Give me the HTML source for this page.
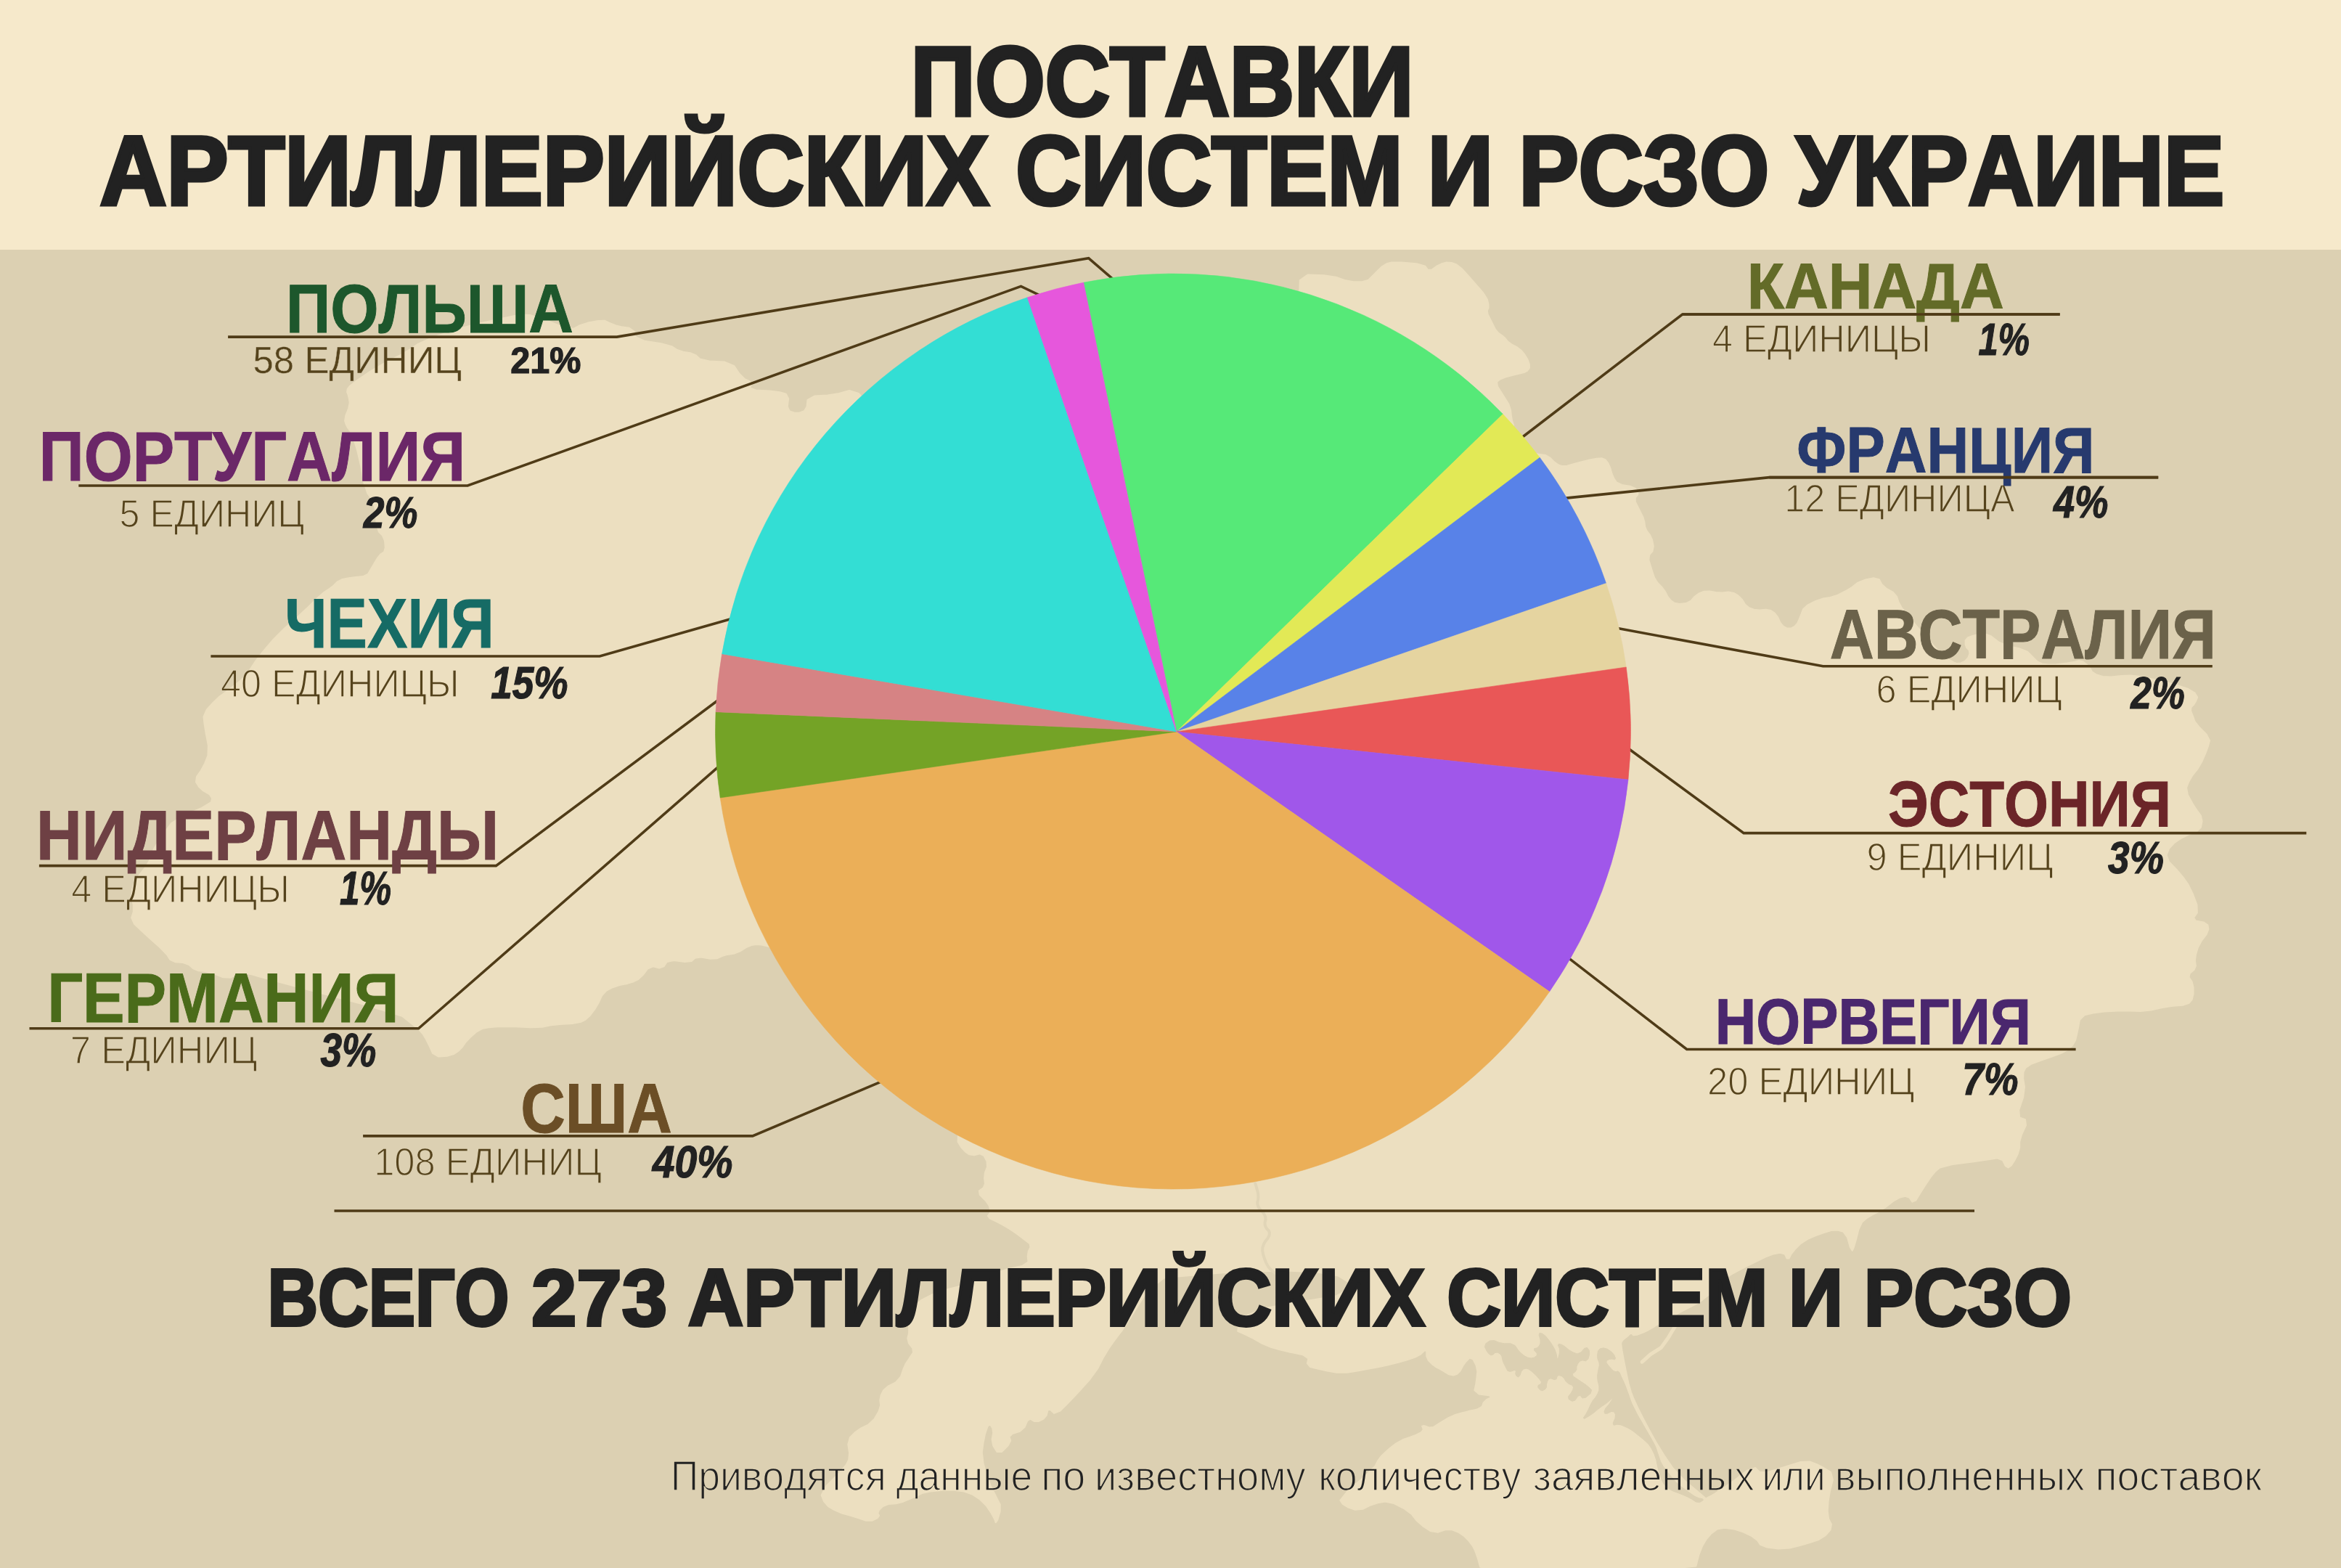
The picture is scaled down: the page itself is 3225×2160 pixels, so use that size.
<!DOCTYPE html>
<html lang="ru"><head><meta charset="utf-8"><title>Поставки артиллерийских систем и РСЗО Украине</title>
<style>
html,body{margin:0;padding:0;background:#dcd0b2;}
body{width:3225px;height:2160px;overflow:hidden;}
svg{display:block;font-family:"Liberation Sans",sans-serif;font-kerning:none;}
text{white-space:pre;}
</style></head><body>
<svg width="3225" height="2160" viewBox="0 0 3225 2160">
<rect width="3225" height="2160" fill="#dcd0b2"/>
<path d="M492.2 523.8L510.8 511.2L530.0 500.0L550.0 490.0L565.2 481.2L575.8 473.8L595.8 465.0L625.2 455.0L653.8 447.0L681.2 441.0L702.0 436.5L716.0 433.5L729.8 434.0L743.2 438.0L759.0 443.8L777.0 451.2L790.2 452.8L798.8 448.2L810.0 444.6L824.0 442.0L833.5 441.8L838.5 444.3L843.5 446.5L848.5 448.5L856.2 450.2L866.8 451.7L873.2 456.3L875.8 464.1L888.2 469.8L910.8 473.2L925.5 477.2L932.5 481.8L941.0 484.8L951.0 486.2L958.8 489.5L964.2 494.5L977.2 497.5L997.8 498.5L1011.5 504.2L1018.5 514.8L1025.5 521.8L1032.5 525.2L1035.0 529.5L1033.0 534.5L1041.5 537.5L1060.5 538.5L1074.2 540.2L1082.8 542.8L1086.2 549.2L1084.8 559.8L1087.5 566.2L1094.5 568.8L1101.2 568.8L1107.8 566.2L1111.5 560.2L1112.5 550.8L1122.0 545.5L1140.0 544.5L1156.0 542.0L1170.0 538.0L1182.8 542.0L1194.2 554.0L1275.0 540.0L1425.0 500.0L1572.5 462.5L1717.5 427.5L1790.2 402.0L1790.8 386.0L1801.8 378.4L1823.6 379.2L1840.4 381.8L1852.5 386.0L1864.5 388.2L1876.6 388.2L1885.2 385.6L1890.4 380.5L1896.4 374.4L1903.3 367.6L1910.2 363.3L1917.0 361.5L1930.8 361.5L1951.5 363.3L1963.5 366.7L1967.0 371.8L1972.2 371.8L1979.0 366.7L1986.0 363.3L1992.8 361.5L1999.7 362.0L2006.6 364.5L2014.3 370.6L2023.0 380.1L2032.4 390.8L2042.8 402.9L2048.8 412.3L2050.5 419.2L2050.5 424.3L2048.8 427.8L2049.6 432.9L2053.1 439.9L2056.5 446.8L2060.0 453.7L2064.3 458.8L2069.4 462.3L2073.7 466.1L2077.2 470.5L2082.4 474.3L2089.2 477.8L2095.3 482.5L2100.4 488.5L2104.3 494.9L2106.9 501.9L2106.9 507.0L2104.3 510.5L2099.6 513.1L2092.7 514.8L2084.1 516.9L2073.8 519.5L2066.4 522.5L2062.2 526.0L2063.0 532.4L2069.0 541.9L2074.2 550.1L2078.4 556.9L2081.0 564.7L2082.0 573.3L2083.2 580.2L2085.0 585.3L2084.4 595.9L2081.4 612.0L2090.1 621.5L2110.1 624.3L2123.2 626.2L2129.3 627.1L2135.3 630.5L2141.4 636.6L2147.0 640.5L2152.1 642.1L2159.0 641.7L2167.6 639.2L2177.9 636.4L2190.0 633.5L2199.4 631.8L2206.4 631.2L2211.5 633.1L2215.0 637.5L2218.0 643.9L2220.5 652.5L2223.5 659.4L2227.0 664.5L2234.3 668.0L2245.5 669.7L2252.8 672.8L2256.3 677.1L2256.3 681.4L2252.8 685.6L2252.8 691.2L2256.3 698.2L2259.7 705.0L2263.2 711.9L2265.3 718.7L2266.2 725.7L2268.8 731.7L2273.0 736.8L2276.1 743.7L2277.8 752.4L2276.5 759.3L2272.2 764.4L2271.3 771.3L2273.9 779.9L2276.5 788.1L2279.1 795.8L2283.4 802.7L2289.4 808.8L2294.1 815.2L2297.6 822.1L2301.9 827.2L2307.0 830.7L2313.9 832.0L2322.6 831.1L2329.5 827.7L2334.6 821.7L2340.6 817.4L2347.6 814.8L2355.3 814.4L2363.9 816.0L2372.5 816.5L2381.1 815.6L2388.4 816.9L2394.5 820.4L2399.7 825.6L2403.9 832.4L2409.5 837.2L2416.4 839.7L2424.1 840.6L2432.7 839.7L2439.6 841.0L2444.8 844.5L2449.1 850.1L2452.6 857.8L2456.9 863.0L2462.0 865.6L2467.2 865.6L2472.3 863.0L2476.2 858.7L2478.8 852.6L2481.4 846.2L2484.0 839.3L2490.5 833.3L2500.8 828.1L2511.1 824.6L2521.4 823.0L2531.8 819.6L2542.0 814.5L2551.1 809.0L2558.8 803.0L2568.8 798.8L2580.9 796.2L2588.8 798.2L2592.2 804.8L2598.5 810.5L2607.5 815.5L2613.1 821.8L2615.4 829.2L2619.7 837.0L2626.0 845.2L2635.0 856.1L2646.5 870.0L2658.1 883.2L2669.6 895.9L2678.8 904.6L2685.7 909.2L2691.5 912.4L2696.1 914.1L2701.3 913.5L2707.1 910.7L2711.2 906.3L2713.4 900.5L2712.8 895.9L2709.3 892.4L2707.6 887.8L2707.6 882.1L2711.1 878.1L2718.0 875.8L2725.5 874.0L2733.6 872.9L2742.8 876.3L2753.2 884.4L2766.5 890.1L2782.6 893.6L2793.0 897.6L2797.6 902.3L2802.2 906.9L2806.8 911.5L2813.1 914.4L2821.3 915.5L2832.8 915.2L2847.8 913.5L2858.2 911.8L2863.9 910.1L2869.7 911.5L2875.4 916.1L2879.5 920.7L2881.8 925.3L2887.6 929.1L2896.8 931.9L2908.3 932.5L2922.2 930.9L2934.9 930.5L2946.4 931.7L2966.6 935.7L2995.4 942.6L3014.4 949.0L3023.7 954.7L3027.2 960.5L3024.8 966.3L3022.0 970.9L3018.5 974.4L3018.0 979.0L3020.2 984.7L3022.1 989.7L3023.5 993.9L3029.3 1001.2L3039.7 1011.6L3044.0 1020.2L3042.2 1027.1L3038.8 1036.6L3033.6 1048.7L3027.6 1059.0L3020.7 1067.6L3015.6 1076.2L3012.1 1084.8L3013.9 1095.1L3020.7 1107.2L3026.8 1116.7L3031.9 1123.5L3033.6 1131.3L3031.9 1139.9L3025.8 1145.9L3015.6 1149.4L3005.2 1154.5L2994.9 1161.5L2988.0 1169.2L2984.6 1177.8L2988.1 1187.3L2998.3 1197.6L3007.0 1207.8L3014.1 1217.8L3020.5 1230.6L3026.4 1246.1L3026.9 1257.3L3022.0 1264.1L3024.9 1268.5L3035.7 1270.4L3041.5 1274.3L3042.4 1280.2L3039.5 1287.5L3032.7 1296.2L3027.8 1305.5L3024.9 1315.2L3023.9 1323.5L3024.9 1330.3L3022.5 1336.1L3016.6 1341.0L3015.6 1346.3L3019.6 1352.2L3021.5 1360.0L3021.5 1369.7L3019.6 1377.0L3015.6 1381.9L3006.9 1384.8L2993.3 1385.7L2978.7 1388.0L2963.2 1391.5L2948.6 1392.9L2934.9 1392.4L2918.4 1392.6L2898.9 1393.5L2883.4 1395.5L2871.7 1398.3L2864.9 1405.1L2863.0 1415.9L2861.0 1425.1L2859.1 1432.9L2855.2 1439.7L2849.3 1445.6L2839.6 1450.9L2826.0 1455.8L2812.4 1460.6L2798.7 1465.5L2790.5 1470.8L2787.5 1476.7L2787.1 1485.4L2789.0 1497.2L2787.1 1511.8L2781.2 1529.2L2782.2 1539.5L2790.0 1542.3L2791.0 1550.1L2785.1 1562.8L2782.2 1573.0L2782.2 1580.8L2779.8 1589.6L2774.9 1599.2L2770.6 1605.6L2766.6 1608.5L2762.7 1606.1L2758.9 1598.3L2751.1 1595.4L2739.4 1597.3L2719.0 1600.2L2689.8 1604.1L2672.3 1608.5L2666.4 1613.4L2659.6 1621.6L2651.9 1633.3L2645.1 1644.0L2639.2 1653.7L2634.4 1655.7L2630.4 1649.8L2624.6 1647.9L2616.8 1649.8L2608.1 1654.7L2598.3 1662.5L2588.6 1668.8L2578.9 1673.7L2571.1 1678.5L2565.3 1683.4L2560.5 1693.6L2556.5 1709.2L2553.6 1718.9L2551.7 1722.8L2548.8 1717.9L2544.9 1704.3L2539.0 1696.5L2531.2 1694.6L2522.5 1695.1L2512.8 1698.0L2502.1 1701.9L2490.3 1706.8L2480.6 1713.1L2472.9 1720.8L2467.5 1727.6L2464.6 1733.5L2461.6 1733.5L2458.8 1727.6L2452.4 1725.7L2442.7 1727.6L2432.0 1731.5L2420.3 1737.4L2408.7 1743.2L2396.9 1749.1L2386.2 1754.9L2376.5 1760.8L2365.8 1770.3L2354.2 1783.4L2341.2 1793.8L2327.1 1801.2L2312.1 1808.9L2296.4 1816.8L2286.6 1822.1L2282.9 1824.9L2277.7 1828.2L2271.1 1832.0L2263.6 1835.5L2255.1 1838.8L2249.9 1839.2L2248.0 1836.9L2246.1 1836.7L2244.3 1838.5L2241.1 1841.4L2236.3 1845.1L2233.8 1848.4L2233.2 1851.3L2234.5 1860.7L2237.5 1876.6L2240.5 1891.7L2243.5 1905.8L2246.9 1917.6L2250.6 1927.0L2256.2 1939.2L2263.8 1954.3L2272.2 1970.2L2281.6 1987.1L2292.4 2004.5L2304.7 2022.5L2320.3 2039.3L2339.2 2055.1L2349.0 2063.6L2349.6 2064.7L2357.6 2060.5L2373.0 2050.9L2389.3 2039.3L2406.7 2025.8L2418.2 2022.0L2423.9 2027.8L2434.5 2028.3L2449.9 2023.5L2465.3 2018.7L2480.6 2013.9L2493.1 2013.4L2502.8 2017.2L2512.4 2022.0L2522.0 2027.8L2524.9 2038.4L2521.0 2053.7L2518.6 2068.2L2517.7 2081.7L2519.1 2092.2L2523.0 2099.9L2521.5 2107.5L2514.8 2115.2L2505.6 2121.0L2494.1 2124.9L2480.6 2128.7L2465.3 2132.6L2449.9 2133.5L2434.5 2131.6L2424.9 2127.7L2421.0 2122.0L2413.3 2116.2L2401.8 2110.5L2389.3 2106.6L2375.8 2104.7L2365.3 2106.6L2357.6 2112.4L2350.9 2120.1L2345.1 2129.7L2340.3 2142.1L2336.4 2157.4L2261.1 2165.0L2114.3 2165.0L2039.2 2158.8L2035.7 2146.2L2032.3 2136.6L2028.8 2129.6L2023.7 2122.8L2016.8 2115.9L2009.1 2110.7L2000.4 2107.2L1990.9 2107.2L1980.7 2110.7L1970.3 2109.0L1960.0 2102.1L1951.3 2094.4L1944.5 2085.7L1934.1 2078.0L1920.4 2071.1L1908.3 2068.5L1898.0 2070.2L1887.6 2073.7L1877.4 2078.8L1867.0 2079.7L1856.7 2076.2L1849.8 2071.9L1846.3 2066.8L1856.6 2053.9L1880.8 2033.2L1894.5 2019.5L1898.0 2012.5L1902.3 2006.5L1907.5 2001.4L1914.4 1995.3L1923.0 1988.5L1932.4 1983.3L1942.8 1979.8L1951.4 1976.4L1958.2 1972.9L1960.9 1969.1L1959.1 1964.7L1961.7 1963.9L1968.6 1966.5L1974.6 1966.1L1979.8 1962.6L1986.7 1958.3L1995.3 1953.2L2003.9 1949.3L2012.5 1946.7L2022.8 1944.1L2034.9 1941.5L2041.8 1937.6L2043.5 1932.5L2047.8 1928.2L2054.7 1924.7L2051.2 1922.2L2037.5 1920.4L2031.4 1915.3L2033.2 1906.7L2034.4 1898.1L2035.3 1889.4L2033.6 1880.8L2029.2 1872.2L2024.5 1870.5L2019.4 1875.7L2015.1 1881.7L2011.6 1888.6L2007.3 1892.9L2002.2 1894.6L1996.1 1893.3L1989.2 1889.1L1983.2 1885.6L1978.1 1883.0L1972.9 1879.1L1967.8 1874.0L1965.2 1868.0L1965.2 1861.0L1962.6 1860.2L1957.4 1865.3L1949.6 1869.6L1939.4 1873.1L1927.3 1876.5L1913.5 1880.0L1899.7 1883.0L1886.0 1885.6L1871.3 1888.2L1855.8 1890.7L1841.2 1890.7L1827.4 1888.2L1815.3 1885.6L1805.1 1883.0L1800.8 1878.2L1802.4 1871.4L1794.7 1866.2L1777.5 1862.7L1762.9 1859.3L1750.8 1855.9L1738.8 1850.8L1726.7 1843.9L1715.5 1838.3L1705.2 1833.9L1706.2 1825.1L1718.8 1811.7L1743.8 1801.8L1781.2 1795.2L1813.8 1789.8L1841.2 1785.2L1855.8 1777.2L1857.2 1765.8L1843.5 1757.5L1814.5 1752.5L1775.0 1750.5L1725.0 1751.5L1685.0 1753.2L1655.0 1755.8L1627.8 1758.1L1603.5 1760.4L1580.2 1779.0L1557.9 1814.1L1545.1 1833.7L1541.7 1837.9L1535.7 1846.0L1527.2 1858.0L1519.5 1870.8L1512.6 1884.6L1501.5 1900.0L1486.2 1917.0L1472.5 1931.6L1460.5 1943.5L1452.0 1946.9L1446.8 1941.8L1443.4 1942.6L1441.8 1949.5L1437.5 1954.6L1430.6 1958.0L1424.7 1958.0L1419.5 1954.6L1415.3 1957.2L1411.8 1965.7L1405.0 1971.7L1394.7 1975.1L1390.4 1979.4L1392.2 1984.5L1388.7 1991.4L1380.2 1999.9L1373.4 1999.9L1368.2 1991.4L1366.6 1982.8L1368.2 1974.3L1367.4 1967.4L1364.0 1962.3L1360.6 1964.8L1357.1 1975.1L1354.6 1987.1L1352.8 2000.7L1354.6 2016.1L1359.7 2033.2L1364.8 2046.9L1370.0 2057.2L1374.2 2065.7L1377.7 2072.5L1377.7 2081.9L1374.2 2093.9L1371.7 2097.3L1369.9 2092.2L1365.7 2084.5L1358.8 2074.2L1350.3 2065.7L1340.0 2058.8L1328.1 2054.6L1314.4 2052.8L1299.0 2052.8L1282.0 2054.6L1270.0 2057.1L1263.1 2060.6L1254.6 2064.4L1244.3 2068.7L1234.1 2071.2L1223.8 2072.1L1216.2 2075.1L1211.0 2080.2L1209.3 2084.5L1211.1 2087.9L1208.5 2091.3L1201.6 2094.7L1193.1 2094.7L1182.8 2091.3L1171.7 2087.9L1159.8 2084.5L1149.5 2080.2L1141.0 2075.1L1135.0 2068.2L1131.6 2059.7L1138.4 2046.9L1155.5 2029.8L1165.7 2017.9L1169.2 2011.0L1170.1 2001.6L1168.3 1989.7L1170.9 1980.3L1177.7 1973.4L1186.2 1967.4L1196.5 1962.3L1204.6 1954.6L1210.6 1944.3L1213.2 1935.8L1212.3 1929.0L1213.6 1922.2L1217.0 1915.3L1223.8 1909.3L1234.1 1904.2L1240.9 1896.5L1244.4 1886.2L1247.8 1878.5L1251.2 1873.5L1254.6 1868.3L1258.0 1863.2L1257.2 1857.2L1252.0 1850.4L1250.3 1843.6L1252.1 1836.7L1252.2 1828.7L1250.7 1819.6L1253.0 1810.0L1259.0 1800.0L1269.0 1791.2L1283.0 1783.8L1300.0 1777.5L1320.0 1772.5L1342.5 1765.0L1367.5 1755.0L1389.3 1748.0L1407.8 1744.1L1416.6 1738.3L1415.7 1730.6L1416.7 1723.9L1419.5 1718.1L1418.6 1713.3L1413.7 1709.4L1407.5 1704.6L1399.8 1698.9L1391.2 1693.1L1381.5 1687.4L1372.4 1682.6L1363.7 1678.7L1360.9 1674.9L1363.8 1671.0L1364.2 1666.2L1362.4 1660.5L1357.6 1653.7L1349.8 1646.1L1348.9 1640.3L1354.6 1636.4L1357.0 1630.7L1356.1 1622.9L1357.0 1615.2L1360.0 1607.6L1359.5 1599.9L1355.6 1592.2L1349.9 1589.4L1342.1 1591.2L1335.4 1590.3L1329.7 1586.4L1324.4 1580.7L1319.6 1572.9L1320.4 1551.8L1326.8 1517.3L1285.0 1457.5L1195.0 1372.5L1128.0 1323.7L1084.0 1311.0L1057.7 1303.6L1049.2 1301.5L1041.7 1301.0L1035.2 1302.0L1027.8 1305.2L1019.2 1310.6L1010.7 1313.8L1002.2 1314.9L994.7 1317.0L988.2 1320.2L978.6 1320.7L965.8 1318.6L957.3 1319.7L953.0 1323.9L943.4 1325.0L928.4 1322.9L918.8 1325.0L914.5 1331.4L908.1 1333.5L899.6 1331.4L892.1 1334.6L885.7 1343.1L879.3 1349.0L872.9 1352.2L864.4 1354.9L853.6 1357.0L844.0 1360.2L835.5 1364.6L829.1 1371.5L824.8 1381.1L819.4 1390.2L813.0 1398.7L806.6 1404.6L800.2 1407.8L788.5 1409.9L771.3 1411.0L757.5 1412.6L746.8 1414.7L730.8 1415.3L709.4 1414.2L693.0 1414.0L681.6 1414.5L672.0 1415.5L664.2 1417.1L656.0 1421.7L647.5 1429.2L641.1 1436.1L636.8 1442.5L631.4 1447.9L625.0 1452.1L615.9 1454.7L604.2 1455.6L596.0 1450.9L591.5 1440.7L587.0 1431.8L582.5 1424.3L576.5 1417.6L569.0 1411.7L561.5 1405.7L554.0 1399.7L502.5 1384.0L406.8 1358.7L355.2 1344.8L347.8 1342.6L340.2 1341.0L332.8 1340.3L325.3 1342.2L317.8 1346.7L307.4 1346.3L293.9 1341.0L282.7 1338.0L273.7 1337.3L266.2 1334.3L260.3 1329.0L252.1 1326.1L241.6 1325.3L234.2 1321.8L230.1 1315.2L221.0 1305.8L207.0 1293.2L195.0 1282.2L185.0 1272.8L181.2 1264.0L183.8 1256.0L183.8 1246.5L181.2 1235.5L182.0 1225.0L186.0 1215.0L192.2 1204.8L200.8 1194.2L206.0 1185.2L208.0 1177.8L212.8 1168.0L220.2 1156.0L228.0 1144.8L236.0 1134.2L252.5 1123.8L277.5 1113.2L290.8 1105.2L292.2 1099.8L288.8 1094.5L280.2 1089.5L274.0 1083.8L270.0 1077.2L271.0 1069.8L277.0 1061.2L282.1 1051.6L286.4 1040.9L286.9 1027.0L283.6 1009.8L281.5 996.7L280.5 987.5L284.7 977.7L294.0 967.4L302.7 959.3L310.8 953.6L320.6 946.1L332.1 937.0L342.4 925.5L351.4 911.7L362.9 896.8L376.8 880.7L391.7 865.8L407.8 851.9L422.7 838.1L436.5 824.5L446.8 815.5L453.8 811.1L459.8 806.5L464.9 801.3L471.8 797.9L480.5 796.2L490.0 794.9L500.2 794.1L507.1 790.6L510.6 784.6L514.9 777.3L520.0 768.7L524.8 763.0L529.1 760.4L530.8 754.2L530.0 744.8L526.9 737.5L521.8 732.5L518.6 720.9L517.4 702.7L513.3 689.0L506.4 679.6L501.0 663.8L497.0 641.2L492.5 621.8L487.5 605.2L483.1 594.5L479.2 589.5L476.6 584.5L475.1 579.7L476.3 572.3L480.2 562.5L481.7 554.7L480.8 548.8L479.6 543.8L478.1 539.9L478.7 535.9L481.6 532.0Z" fill="#ecdfc0" stroke="#ecdfc0" stroke-width="2" stroke-linejoin="round"/>
<path d="M2046.8 1850.8L2052.4 1847.0L2058.5 1846.6L2065.1 1849.4L2072.6 1850.8L2081.1 1850.8L2087.2 1853.6L2091.0 1859.3L2095.2 1864.0L2099.9 1867.7L2104.6 1870.1L2109.3 1871.0L2113.6 1870.1L2117.3 1867.2L2117.3 1864.0L2113.6 1860.2L2113.6 1857.8L2117.3 1856.9L2120.1 1854.6L2122.0 1850.8L2122.0 1845.6L2120.1 1839.0L2121.1 1836.2L2124.8 1837.2L2129.1 1840.4L2133.8 1846.1L2138.0 1852.2L2141.8 1858.8L2144.1 1865.4L2145.1 1872.0L2146.5 1871.5L2148.4 1864.0L2148.4 1857.8L2146.5 1853.1L2147.4 1851.3L2151.2 1852.2L2155.9 1855.0L2161.5 1859.7L2167.2 1863.0L2172.8 1864.9L2178.0 1863.0L2182.7 1857.4L2186.5 1856.4L2189.3 1860.2L2189.7 1865.4L2187.9 1872.0L2184.6 1874.8L2179.9 1873.8L2176.1 1875.2L2173.3 1879.0L2171.9 1882.8L2171.9 1886.5L2170.0 1889.8L2166.2 1892.6L2167.2 1895.9L2172.8 1899.7L2178.5 1903.5L2184.1 1907.2L2188.8 1911.0L2192.6 1914.7L2191.2 1919.5L2184.6 1925.1L2179.9 1926.0L2177.0 1922.3L2173.8 1923.2L2170.0 1928.9L2165.8 1930.3L2161.1 1927.4L2160.6 1923.7L2164.3 1919.0L2166.7 1914.7L2167.6 1911.0L2165.8 1908.2L2161.1 1906.3L2157.3 1903.0L2154.5 1898.3L2151.2 1895.5L2147.4 1894.5L2145.1 1895.9L2144.1 1899.7L2141.3 1900.6L2136.6 1898.8L2133.3 1899.7L2131.4 1903.5L2130.5 1907.2L2130.5 1911.0L2128.6 1913.8L2124.8 1915.7L2121.6 1914.7L2118.7 1911.0L2119.2 1908.2L2123.0 1906.3L2123.4 1903.5L2120.6 1899.7L2117.3 1895.9L2113.6 1892.2L2109.8 1888.9L2106.0 1886.1L2102.3 1885.1L2098.5 1886.1L2095.7 1889.4L2093.8 1895.0L2091.5 1896.9L2088.6 1895.0L2087.7 1892.2L2088.6 1888.4L2086.3 1887.5L2080.6 1889.4L2076.9 1888.4L2075.0 1884.7L2073.1 1880.9L2071.2 1877.1L2069.8 1872.9L2068.9 1868.2L2066.5 1864.9L2062.8 1863.0L2059.5 1863.5L2056.7 1866.3L2053.8 1866.8L2051.0 1864.9L2048.2 1861.1L2045.4 1855.5Z" fill="#dcd0b2" stroke="#dcd0b2" stroke-width="1" stroke-linejoin="round"/>
<path d="M2204.3 1857.8L2209.0 1856.9L2214.2 1858.3L2219.8 1862.1L2223.6 1866.3L2225.5 1871.0L2224.5 1872.9L2220.8 1872.0L2217.0 1872.4L2213.3 1874.3L2212.8 1877.1L2215.6 1880.9L2218.9 1884.7L2222.7 1888.4L2226.0 1889.8L2228.8 1888.9L2231.1 1890.8L2233.0 1895.5L2234.9 1899.7L2236.8 1903.5L2239.1 1909.1L2241.9 1916.6L2244.3 1923.2L2246.2 1928.9L2248.1 1933.6L2249.9 1937.3L2252.3 1942.0L2255.1 1947.7L2257.9 1952.8L2260.8 1957.5L2264.0 1963.2L2267.8 1969.8L2272.0 1976.8L2276.7 1984.3L2280.5 1992.3L2283.3 2000.8L2285.7 2007.9L2287.6 2013.5L2291.3 2020.1L2297.0 2027.6L2302.6 2034.7L2308.3 2041.3L2314.4 2046.9L2321.0 2051.6L2327.5 2056.3L2334.1 2061.0L2340.2 2063.8L2345.9 2064.8L2346.3 2066.6L2341.6 2069.5L2336.5 2069.0L2330.8 2065.2L2324.7 2061.9L2318.1 2059.1L2311.1 2056.3L2303.6 2053.5L2297.4 2049.7L2292.7 2045.0L2289.0 2038.4L2286.2 2030.0L2283.8 2021.0L2281.9 2011.6L2279.1 2003.2L2275.3 1995.6L2271.6 1990.0L2267.8 1986.2L2263.6 1982.5L2258.9 1978.7L2254.2 1974.9L2249.5 1971.2L2245.2 1968.4L2241.5 1966.5L2237.2 1964.6L2232.5 1962.7L2227.8 1962.2L2223.1 1963.2L2222.2 1960.4L2225.0 1953.8L2225.5 1948.6L2223.6 1944.8L2219.8 1944.4L2214.2 1947.2L2210.9 1947.2L2210.0 1944.4L2211.8 1940.1L2216.6 1934.5L2219.8 1929.8L2221.7 1926.0L2220.8 1926.0L2217.0 1929.8L2212.3 1933.6L2206.7 1937.3L2201.0 1941.6L2195.4 1946.3L2189.3 1950.5L2182.7 1954.3L2181.3 1953.3L2185.0 1947.7L2188.3 1941.6L2191.2 1935.0L2194.4 1929.3L2198.2 1924.6L2201.0 1919.9L2202.9 1915.2L2202.9 1909.1L2201.0 1901.6L2200.6 1895.0L2201.5 1889.4L2202.4 1884.7L2203.4 1880.9L2202.9 1876.7L2201.0 1872.0L2200.6 1866.8L2201.5 1861.1Z" fill="#dcd0b2" stroke="#dcd0b2" stroke-width="1" stroke-linejoin="round"/>
<path d="M2232.1 1852.7L2237.7 1884.7L2243.4 1912.9L2250.9 1931.7L2265.9 1961.8L2284.7 1995.6L2309.2 2031.4L2348.7 2065.2" fill="none" stroke="#ecdfc0" stroke-width="3" stroke-linejoin="round"/>
<path d="M2262.2 1876.2L2273.5 1865.8L2288.5 1856.4L2297.9 1843.3L2309.2 1824.5" fill="none" stroke="#ecdfc0" stroke-width="5" stroke-linecap="round" stroke-linejoin="round"/>
<path d="M1729.3 1630.3L1729.6 1631.4L1730.3 1633.5L1731.2 1636.7L1732.5 1641.1L1733.2 1645.1L1733.4 1649.0L1733.1 1652.7L1732.3 1656.1L1732.5 1659.6L1733.8 1663.0L1736.2 1666.5L1739.6 1669.9L1742.0 1673.4L1743.3 1676.8L1743.5 1680.3L1742.6 1683.7L1742.6 1687.0L1743.5 1690.0L1745.2 1692.8L1747.8 1695.3L1748.9 1698.3L1748.5 1701.8L1746.5 1705.7L1743.1 1710.0L1740.7 1714.2L1739.4 1718.6L1739.2 1722.8L1740.0 1727.2L1741.1 1731.2L1742.4 1735.1L1743.9 1738.8L1745.6 1742.2L1747.6 1745.4L1750.0 1748.2L1752.6 1750.6L1755.6 1752.8L1757.8 1754.4L1759.3 1755.5L1760.0 1756.0" fill="none" stroke="#e1d5b7" stroke-width="4" stroke-linejoin="round" stroke-linecap="round"/>
<rect width="3225" height="344" fill="#f6e9cb"/>
<g fill="none" stroke="#4f3b17" stroke-width="3.6" stroke-linejoin="miter" stroke-linecap="butt"><path d="M314.1 464.1L849.8 464.1L1499.7 355.7L1535.0 386.0"/><path d="M108.3 669.0L644.2 669.0L1406.5 394.4L1436.0 408.5"/><path d="M290.4 904.0L826.2 904.0L1010.0 851.7"/><path d="M53.9 1192.6L683.4 1192.6L995.0 960.3"/><path d="M40.5 1416.8L576.6 1416.8L995.0 1051.6"/><path d="M500.1 1564.9L1036.8 1564.9L1222.0 1486.6"/><path d="M2837.7 433.0L2317.7 433.0L2090.0 607.8"/><path d="M2973.2 657.6L2437.4 657.6L2150.0 686.9"/><path d="M3047.8 917.7L2511.4 917.7L2222.0 864.3"/><path d="M3177.3 1147.6L2402.2 1147.6L2238.0 1027.3"/><path d="M2859.6 1445.5L2323.7 1445.5L2155.0 1315.2"/><path d="M460.5 1668.0L2720.0 1668.0"/></g>
<path d="M1620.7 1007.9L1492.67 389.18A630.5 630.5 0 0 1 2070.38 570.39Z" fill="#56e978" stroke="#56e978" stroke-width="0.6"/>
<path d="M1620.7 1007.9L2070.38 570.39A630.5 630.5 0 0 1 2121.19 630.26Z" fill="#e2e956" stroke="#e2e956" stroke-width="0.6"/>
<path d="M1620.7 1007.9L2121.19 630.26A630.5 630.5 0 0 1 2212.61 803.58Z" fill="#5882e8" stroke="#5882e8" stroke-width="0.6"/>
<path d="M1620.7 1007.9L2212.61 803.58A630.5 630.5 0 0 1 2240.26 918.99Z" fill="#e5d4a0" stroke="#e5d4a0" stroke-width="0.6"/>
<path d="M1620.7 1007.9L2240.26 918.99A630.5 630.5 0 0 1 2242.98 1074.06Z" fill="#e95757" stroke="#e95757" stroke-width="0.6"/>
<path d="M1620.7 1007.9L2242.98 1074.06A630.5 630.5 0 0 1 2134.61 1366.07Z" fill="#a057ea" stroke="#a057ea" stroke-width="0.6"/>
<path d="M1620.7 1007.9L2134.61 1366.07A630.5 630.5 0 0 1 992.17 1098.95Z" fill="#ebaf58" stroke="#ebaf58" stroke-width="0.6"/>
<path d="M1620.7 1007.9L992.17 1098.95A630.5 630.5 0 0 1 986.07 980.66Z" fill="#74a326" stroke="#74a326" stroke-width="0.6"/>
<path d="M1620.7 1007.9L986.07 980.66A630.5 630.5 0 0 1 994.61 900.73Z" fill="#d68384" stroke="#d68384" stroke-width="0.6"/>
<path d="M1620.7 1007.9L994.61 900.73A630.5 630.5 0 0 1 1415.31 409.79Z" fill="#33ded4" stroke="#33ded4" stroke-width="0.6"/>
<path d="M1620.7 1007.9L1415.31 409.79A630.5 630.5 0 0 1 1492.67 389.18Z" fill="#e657dc" stroke="#e657dc" stroke-width="0.6"/>
<g>
<text transform="translate(1254.73 159.20) scale(0.9135 1)" font-size="135.32" fill="#222" font-weight="700" stroke="#222" stroke-width="5.00" stroke-linejoin="miter">ПОСТАВКИ</text>
<text transform="translate(137.43 282.30) scale(0.9397 1)" font-size="135.61" fill="#222" font-weight="700" stroke="#222" stroke-width="5.00" stroke-linejoin="miter">АРТИЛЛЕРИЙСКИХ</text>
<text transform="translate(1399.18 282.30) scale(0.9202 1)" font-size="135.61" fill="#222" font-weight="700" stroke="#222" stroke-width="5.00" stroke-linejoin="miter">СИСТЕМ</text>
<text transform="translate(1966.86 282.30) scale(0.9258 1)" font-size="135.61" fill="#222" font-weight="700" stroke="#222" stroke-width="5.00" stroke-linejoin="miter">И</text>
<text transform="translate(2092.55 282.30) scale(0.9095 1)" font-size="135.61" fill="#222" font-weight="700" stroke="#222" stroke-width="5.00" stroke-linejoin="miter">РСЗО</text>
<text transform="translate(2474.44 282.30) scale(0.9193 1)" font-size="135.61" fill="#222" font-weight="700" stroke="#222" stroke-width="5.00" stroke-linejoin="miter">УКРАИНЕ</text>
<text transform="translate(368.45 1825.60) scale(0.8611 1)" font-size="111.92" fill="#222" font-weight="700" stroke="#222" stroke-width="4.00" stroke-linejoin="miter">ВСЕГО</text>
<text transform="translate(731.91 1825.60) scale(1.0171 1)" font-size="110.28" fill="#222" font-weight="700" stroke="#222" stroke-width="4.00" stroke-linejoin="miter">273</text>
<text transform="translate(947.87 1825.60) scale(0.9436 1)" font-size="111.92" fill="#222" font-weight="700" stroke="#222" stroke-width="4.00" stroke-linejoin="miter">АРТИЛЛЕРИЙСКИХ</text>
<text transform="translate(1993.26 1825.60) scale(0.9244 1)" font-size="111.92" fill="#222" font-weight="700" stroke="#222" stroke-width="4.00" stroke-linejoin="miter">СИСТЕМ</text>
<text transform="translate(2463.97 1825.60) scale(0.9325 1)" font-size="111.92" fill="#222" font-weight="700" stroke="#222" stroke-width="4.00" stroke-linejoin="miter">И</text>
<text transform="translate(2567.85 1825.60) scale(0.9149 1)" font-size="111.92" fill="#222" font-weight="700" stroke="#222" stroke-width="4.00" stroke-linejoin="miter">РСЗО</text>
<text transform="translate(394.00 457.90) scale(0.8942 1)" font-size="95.35" fill="#1d572c" font-weight="700" stroke="#1d572c" stroke-width="1.00" stroke-linejoin="miter">ПОЛЬША</text>
<text transform="translate(53.84 661.90) scale(0.8972 1)" font-size="95.93" fill="#6b2768" font-weight="700" stroke="#6b2768" stroke-width="1.00" stroke-linejoin="miter">ПОРТУГАЛИЯ</text>
<text transform="translate(392.24 891.90) scale(0.8660 1)" font-size="95.93" fill="#166b65" font-weight="700" stroke="#166b65" stroke-width="1.00" stroke-linejoin="miter">ЧЕХИЯ</text>
<text transform="translate(50.08 1183.70) scale(0.9026 1)" font-size="96.37" fill="#6e4044" font-weight="700" stroke="#6e4044" stroke-width="1.00" stroke-linejoin="miter">НИДЕРЛАНДЫ</text>
<text transform="translate(65.13 1408.20) scale(0.8952 1)" font-size="96.37" fill="#4a6b1a" font-weight="700" stroke="#4a6b1a" stroke-width="1.00" stroke-linejoin="miter">ГЕРМАНИЯ</text>
<text transform="translate(717.21 1560.10) scale(0.8853 1)" font-size="96.22" fill="#6b4e26" font-weight="700" stroke="#6b4e26" stroke-width="1.00" stroke-linejoin="miter">США</text>
<text transform="translate(2406.68 424.80) scale(0.9466 1)" font-size="88.81" fill="#636b28" font-weight="700" stroke="#636b28" stroke-width="1.00" stroke-linejoin="miter">КАНАДА</text>
<text transform="translate(2475.33 650.50) scale(0.8972 1)" font-size="89.10" fill="#273a6e" font-weight="700" stroke="#273a6e" stroke-width="1.00" stroke-linejoin="miter">ФРАНЦИЯ</text>
<text transform="translate(2520.70 906.50) scale(0.8812 1)" font-size="95.79" fill="#6b624a" font-weight="700" stroke="#6b624a" stroke-width="1.00" stroke-linejoin="miter">АВСТРАЛИЯ</text>
<text transform="translate(2600.93 1137.50) scale(0.8719 1)" font-size="89.83" fill="#6b2528" font-weight="700" stroke="#6b2528" stroke-width="1.00" stroke-linejoin="miter">ЭСТОНИЯ</text>
<text transform="translate(2362.76 1437.90) scale(0.8788 1)" font-size="89.10" fill="#4a276e" font-weight="700" stroke="#4a276e" stroke-width="1.00" stroke-linejoin="miter">НОРВЕГИЯ</text>
<text transform="translate(703.32 514.20) scale(0.9797 1)" font-size="49.55" fill="#222222" font-weight="700" stroke="#222222" stroke-width="1.20" stroke-linejoin="miter">21%</text>
<text transform="translate(500.71 727.40) scale(0.8472 1)" font-size="60.87" fill="#222222" font-weight="700" font-style="italic" stroke="#222222" stroke-width="1.20" stroke-linejoin="miter">2%</text>
<text transform="translate(676.14 962.10) scale(0.8548 1)" font-size="62.16" fill="#222222" font-weight="700" font-style="italic" stroke="#222222" stroke-width="1.20" stroke-linejoin="miter">15%</text>
<text transform="translate(467.91 1246.40) scale(0.7617 1)" font-size="64.73" fill="#222222" font-weight="700" font-style="italic" stroke="#222222" stroke-width="1.20" stroke-linejoin="miter">1%</text>
<text transform="translate(441.38 1468.80) scale(0.8219 1)" font-size="64.73" fill="#222222" font-weight="700" font-style="italic" stroke="#222222" stroke-width="1.20" stroke-linejoin="miter">3%</text>
<text transform="translate(898.72 1621.70) scale(0.8739 1)" font-size="63.30" fill="#222222" font-weight="700" font-style="italic" stroke="#222222" stroke-width="1.20" stroke-linejoin="miter">40%</text>
<text transform="translate(2725.41 488.90) scale(0.7687 1)" font-size="63.59" fill="#222222" font-weight="700" font-style="italic" stroke="#222222" stroke-width="1.20" stroke-linejoin="miter">1%</text>
<text transform="translate(2828.97 712.50) scale(0.8392 1)" font-size="62.16" fill="#222222" font-weight="700" font-style="italic" stroke="#222222" stroke-width="1.20" stroke-linejoin="miter">4%</text>
<text transform="translate(2935.21 976.20) scale(0.8202 1)" font-size="62.87" fill="#222222" font-weight="700" font-style="italic" stroke="#222222" stroke-width="1.20" stroke-linejoin="miter">2%</text>
<text transform="translate(2904.08 1203.40) scale(0.8568 1)" font-size="62.01" fill="#222222" font-weight="700" font-style="italic" stroke="#222222" stroke-width="1.20" stroke-linejoin="miter">3%</text>
<text transform="translate(2703.37 1508.10) scale(0.8498 1)" font-size="62.87" fill="#222222" font-weight="700" font-style="italic" stroke="#222222" stroke-width="1.20" stroke-linejoin="miter">7%</text>
</g>
<g fill="none" stroke="#4f3b17" stroke-width="3.6" stroke-linejoin="miter" stroke-linecap="butt"><path d="M2837.7 433.0L2317.7 433.0"/><path d="M2973.2 657.6L2437.4 657.6"/></g>
<defs>
<mask id="mu" maskUnits="userSpaceOnUse" x="0" y="0" width="3225" height="2160"><g>
<text transform="translate(348.46 514.00) scale(1.0009 1)" font-size="51.02" fill="#fff" stroke="#000" stroke-width="0.5">58 ЕДИНИЦ</text>
<text transform="translate(164.59 725.80) scale(0.9516 1)" font-size="52.76" fill="#fff" stroke="#000" stroke-width="1.5">5 ЕДИНИЦ</text>
<text transform="translate(304.04 960.00) scale(0.9375 1)" font-size="53.78" fill="#fff" stroke="#000" stroke-width="1.5">40 ЕДИНИЦЫ</text>
<text transform="translate(98.24 1242.50) scale(0.9276 1)" font-size="54.36" fill="#fff" stroke="#000" stroke-width="1.5">4 ЕДИНИЦЫ</text>
<text transform="translate(96.80 1464.60) scale(0.9413 1)" font-size="53.93" fill="#fff" stroke="#000" stroke-width="1.5">7 ЕДИНИЦ</text>
<text transform="translate(515.14 1619.00) scale(0.9351 1)" font-size="54.22" fill="#fff" stroke="#000" stroke-width="1.5">108 ЕДИНИЦ</text>
<text transform="translate(2358.94 484.90) scale(0.9544 1)" font-size="52.91" fill="#fff" stroke="#000" stroke-width="1.5">4 ЕДИНИЦЫ</text>
<text transform="translate(2458.16 705.40) scale(0.9396 1)" font-size="53.63" fill="#fff" stroke="#000" stroke-width="1.5">12 ЕДИНИЦА</text>
<text transform="translate(2584.54 967.70) scale(0.9492 1)" font-size="53.20" fill="#fff" stroke="#000" stroke-width="1.5">6 ЕДИНИЦ</text>
<text transform="translate(2571.42 1198.60) scale(0.9526 1)" font-size="53.20" fill="#fff" stroke="#000" stroke-width="1.5">9 ЕДИНИЦ</text>
<text transform="translate(2352.05 1508.10) scale(0.9325 1)" font-size="54.36" fill="#fff" stroke="#000" stroke-width="1.5">20 ЕДИНИЦ</text>
</g></mask>
<mask id="mf" maskUnits="userSpaceOnUse" x="0" y="0" width="3225" height="2160"><g>
<text transform="translate(923.66 2052.50) scale(0.9378 1)" font-size="57.12" fill="#fff" stroke="#000" stroke-width="1.7">Приводятся</text>
<text transform="translate(1234.48 2052.50) scale(0.9347 1)" font-size="57.12" fill="#fff" stroke="#000" stroke-width="1.7">данные</text>
<text transform="translate(1434.13 2052.50) scale(0.9762 1)" font-size="57.12" fill="#fff" stroke="#000" stroke-width="1.7">по</text>
<text transform="translate(1508.04 2052.50) scale(0.9499 1)" font-size="57.12" fill="#fff" stroke="#000" stroke-width="1.7">известному</text>
<text transform="translate(1816.28 2052.50) scale(0.9393 1)" font-size="57.12" fill="#fff" stroke="#000" stroke-width="1.7">количеству</text>
<text transform="translate(2111.68 2052.50) scale(0.9636 1)" font-size="57.12" fill="#fff" stroke="#000" stroke-width="1.7">заявленных</text>
<text transform="translate(2427.45 2052.50) scale(0.8966 1)" font-size="57.12" fill="#fff" stroke="#000" stroke-width="1.7">или</text>
<text transform="translate(2527.85 2052.50) scale(0.9474 1)" font-size="57.12" fill="#fff" stroke="#000" stroke-width="1.7">выполненных</text>
<text transform="translate(2886.56 2052.50) scale(0.9698 1)" font-size="57.12" fill="#fff" stroke="#000" stroke-width="1.7">поставок</text>
</g></mask>
</defs>
<rect x="0" y="430" width="3225" height="1220" fill="#55431c" mask="url(#mu)"/>
<rect x="900" y="1990" width="2300" height="90" fill="#222222" mask="url(#mf)"/>
</svg>
</body></html>
